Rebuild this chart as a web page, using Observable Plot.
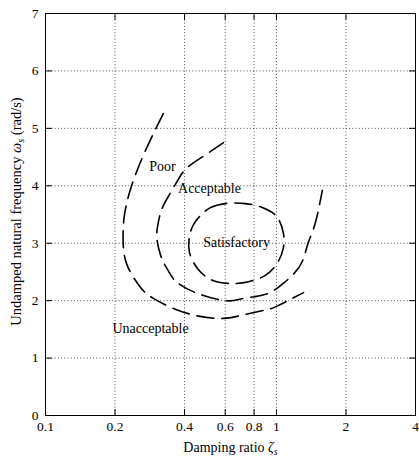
<!DOCTYPE html>
<html>
<head>
<meta charset="utf-8">
<script src="https://cdn.jsdelivr.net/npm/d3@7"></script>
<script src="https://cdn.jsdelivr.net/npm/@observablehq/plot@0.6"></script>
<style>
  html, body { margin: 0; padding: 0; background: #fff; }
  svg { display: block; overflow: visible; }
</style>
</head>
<body>
<div id="chart"></div>
<script>
// Tick values
const xTicks = [0.1, 0.2, 0.4, 0.6, 0.8, 1, 2, 4];
const yTicks = [0, 1, 2, 3, 4, 5, 6, 7];

// Outer boundary (Poor / Unacceptable)
const outerX = [0.324, 0.270, 0.235, 0.219, 0.217, 0.226, 0.258, 0.293, 0.36, 0.46, 0.58, 0.70, 0.88, 1.0, 1.31];
const outerY = [5.26, 4.60, 3.98, 3.45, 3.0, 2.61, 2.23, 2.04, 1.86, 1.73, 1.69, 1.74, 1.83, 1.90, 2.14];

// Middle boundary (Acceptable / Poor)
const middleX = [0.59, 0.493, 0.412, 0.373, 0.342, 0.318, 0.306, 0.304, 0.315, 0.33, 0.355, 0.376, 0.446, 0.60, 0.70, 0.81, 0.94, 1.07, 1.19, 1.30, 1.37, 1.47, 1.58];
const middleY = [4.75, 4.54, 4.32, 4.09, 3.83, 3.58, 3.30, 3.06, 2.79, 2.61, 2.40, 2.30, 2.14, 2.0, 2.03, 2.07, 2.14, 2.30, 2.47, 2.70, 3.0, 3.34, 3.92];

// Inner closed boundary (Satisfactory)
const innerX = [0.469, 0.518, 0.601, 0.734, 0.869, 1.0, 1.07, 1.07, 1.0, 0.895, 0.757, 0.62, 0.518, 0.455, 0.420, 0.420, 0.438];
const innerY = [3.48, 3.62, 3.69, 3.69, 3.62, 3.47, 3.19, 2.91, 2.63, 2.44, 2.33, 2.30, 2.37, 2.56, 2.84, 3.12, 3.33];

// Region labels
const regionNames = ["Poor", "Acceptable", "Satisfactory", "Unacceptable"];
const regionX = [0.321, 0.513, 0.672, 0.285];
const regionY = [4.33, 3.95, 3.01, 1.51];

const toPts = (xs, ys) => xs.map((x, i) => ({x, y: ys[i]}));
const outer = toPts(outerX, outerY);
const middle = toPts(middleX, middleY);
const inner = toPts(innerX, innerY);
const regions = regionNames.map((name, i) => ({name, x: regionX[i], y: regionY[i]}));

const fmt = d => String(d);
const dash = "17,8";
const gridStyle = {stroke: "#000", strokeOpacity: 0.7, strokeDasharray: "1,2.2", strokeWidth: 1};
const tickShape = {draw(context, l) { context.moveTo(0, 0); context.lineTo(0, -l); }};
const tickOpts = {length: 6, anchor: "start", shape: tickShape, stroke: "#000", strokeWidth: 1};

const chart = Plot.plot({
  width: 419,
  height: 459,
  marginLeft: 45,
  marginRight: 4,
  marginTop: 13,
  marginBottom: 44,
  style: {fontFamily: "'Liberation Serif', 'Times New Roman', serif", fontSize: "13.5px", background: "#fff", color: "#000", overflow: "visible"},
  x: {type: "log", domain: [0.1, 4], axis: null},
  y: {domain: [0, 7], axis: null},
  marks: [
    Plot.gridX(xTicks.filter(d => d > 0.1 && d < 4), gridStyle),
    Plot.gridY(yTicks.filter(d => d > 0 && d < 7), gridStyle),
    // tick labels
    Plot.text(xTicks, {x: d => d, text: fmt, frameAnchor: "bottom", lineAnchor: "top", dy: 6, fontSize: 13.5, fill: "#000"}),
    Plot.text(yTicks, {y: d => d, text: fmt, frameAnchor: "left", textAnchor: "end", dx: -7, fontSize: 13.5, fill: "#000"}),
    // inward tick marks on all four sides
    Plot.vector(xTicks, {x: d => d, frameAnchor: "bottom", rotate: 0, ...tickOpts}),
    Plot.vector(xTicks, {x: d => d, frameAnchor: "top", rotate: 180, ...tickOpts}),
    Plot.vector(yTicks, {y: d => d, frameAnchor: "left", rotate: 90, ...tickOpts}),
    Plot.vector(yTicks, {y: d => d, frameAnchor: "right", rotate: -90, ...tickOpts}),
    Plot.frame({stroke: "#000", strokeWidth: 1}),
    Plot.line(outer, {x: "x", y: "y", curve: "natural", stroke: "#000", strokeWidth: 1.6, strokeDasharray: dash}),
    Plot.line(middle, {x: "x", y: "y", curve: "natural", stroke: "#000", strokeWidth: 1.6, strokeDasharray: dash}),
    Plot.line(inner, {x: "x", y: "y", curve: "catmull-rom-closed", stroke: "#000", strokeWidth: 1.6, strokeDasharray: dash}),
    Plot.text(regions, {x: "x", y: "y", text: "name", fontSize: 14, fill: "#000"}),
    Plot.text(["Damping ratio ζs"], {frameAnchor: "bottom", textAnchor: "middle", lineAnchor: "middle", dy: 32, fontSize: 14, fill: "#000"}),
    Plot.text(["Undamped natural frequency ωs (rad/s)"], {frameAnchor: "left", textAnchor: "middle", lineAnchor: "middle", dx: -29, dy: -3, rotate: -90, fontSize: 14.5, fill: "#000"})
  ]
});

// Italic Greek symbols with subscripts
chart.querySelectorAll("text").forEach(t => {
  const s = t.textContent;
  if (s === "Damping ratio ζs") {
    t.innerHTML = 'Damping ratio <tspan font-style="italic">ζ</tspan><tspan font-style="italic" font-size="10" dy="3">s</tspan>';
  } else if (s === "Undamped natural frequency ωs (rad/s)") {
    t.innerHTML = 'Undamped natural frequency <tspan font-style="italic">ω</tspan><tspan font-style="italic" font-size="10" dy="3">s</tspan><tspan dy="-3"> (rad/s)</tspan>';
  }
});

document.getElementById("chart").appendChild(chart);
</script>
</body>
</html>
